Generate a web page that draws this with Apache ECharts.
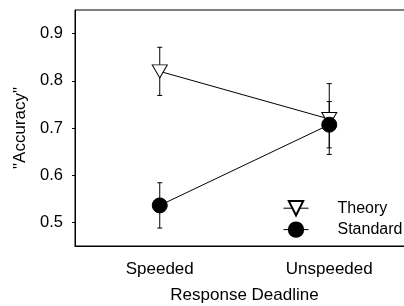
<!DOCTYPE html>
<html>
<head>
<meta charset="utf-8">
<script src="https://cdn.jsdelivr.net/npm/echarts@6/dist/echarts.min.js"></script>
<style>
  html, body { margin: 0; padding: 0; background: #fff; }
  #chart { width: 404px; height: 306px; }
</style>
</head>
<body>
<div id="chart"></div>
<script>
// data
var categories = ['Speeded', 'Unspeeded'];
var theoryMean = [0.820, 0.719];
var theoryErr = [0.051, 0.075];
var standardMean = [0.536, 0.707];
var standardErr = [0.048, 0.049];
var yTicks = [0.5, 0.6, 0.7, 0.8, 0.9];

var font = 'Arial, "Liberation Sans", sans-serif';

// error bar rows: [categoryIndex, low, high]
var errRows = function (mean, err) {
  return mean.map(function (m, i) { return [i, m - err[i], m + err[i]]; });
};

var errBar = function (params, api) {
  var x = api.value(0);
  var lo = api.coord([x, api.value(1)]);
  var hi = api.coord([x, api.value(2)]);
  var cap = 2.5;
  var st = { stroke: '#000', lineWidth: 1 };
  return {
    type: 'group',
    children: [
      { type: 'line', shape: { x1: lo[0], y1: lo[1], x2: hi[0], y2: hi[1] }, style: st },
      { type: 'line', shape: { x1: lo[0] - cap, y1: lo[1], x2: lo[0] + cap, y2: lo[1] }, style: st },
      { type: 'line', shape: { x1: hi[0] - cap, y1: hi[1], x2: hi[0] + cap, y2: hi[1] }, style: st }
    ]
  };
};

var chart = echarts.init(document.getElementById('chart'));
chart.setOption({
  animation: false,
  textStyle: { fontFamily: font, color: '#000' },
  grid: {
    left: 75, top: 10, right: -10, bottom: 60,
    outerBoundsMode: 'none',
    show: true, borderColor: '#000', borderWidth: 1
  },
  legend: {
    orient: 'vertical',
    left: 283, top: 200,
    padding: 0,
    itemWidth: 25, itemHeight: 18, itemGap: 5,
    data: ['Theory', 'Standard'],
    lineStyle: { width: 1 },
    textStyle: { fontFamily: font, fontSize: 16, color: '#000', padding: [0, 0, 0, 24] }
  },
  xAxis: {
    type: 'category',
    data: categories,
    boundaryGap: true,
    name: 'Response Deadline',
    nameLocation: 'middle',
    nameGap: 41,
    nameTextStyle: { fontSize: 17, color: '#000', fontFamily: font },
    axisLine: { lineStyle: { color: '#000', width: 1 } },
    axisTick: { alignWithLabel: true, length: 4, lineStyle: { color: '#000' } },
    axisLabel: { fontSize: 17, color: '#000', margin: 15, fontFamily: font },
    splitLine: { show: false }
  },
  yAxis: {
    type: 'value',
    min: 0.45, max: 0.95,
    name: '"Accuracy"',
    nameLocation: 'middle',
    nameGap: 37,
    nameTextStyle: { fontSize: 17, color: '#000', fontFamily: font },
    axisLine: { show: true, lineStyle: { color: '#000', width: 1 } },
    axisTick: { show: true, length: 3, customValues: yTicks, lineStyle: { color: '#000' } },
    axisLabel: {
      fontSize: 16.5, color: '#000', margin: 12, fontFamily: font,
      customValues: yTicks,
      formatter: function (v) { return v.toFixed(1); }
    },
    splitLine: { show: false }
  },
  series: [
    {
      type: 'custom',
      renderItem: errBar,
      data: errRows(theoryMean, theoryErr),
      encode: { x: 0, y: [1, 2] },
      z: 1,
      silent: true
    },
    {
      type: 'custom',
      renderItem: errBar,
      data: errRows(standardMean, standardErr),
      encode: { x: 0, y: [1, 2] },
      z: 1,
      silent: true
    },
    {
      name: 'Theory',
      type: 'line',
      data: theoryMean,
      symbol: 'triangle',
      symbolRotate: 180,
      symbolSize: [15, 13],
      lineStyle: { color: '#000', width: 1 },
      itemStyle: { color: '#fff', borderColor: '#000', borderWidth: 1 },
      z: 3
    },
    {
      name: 'Standard',
      type: 'line',
      data: standardMean,
      symbol: 'circle',
      symbolSize: 15,
      lineStyle: { color: '#000', width: 1 },
      itemStyle: { color: '#000', borderColor: '#000', borderWidth: 1 },
      z: 4
    }
  ]
});
</script>
</body>
</html>
